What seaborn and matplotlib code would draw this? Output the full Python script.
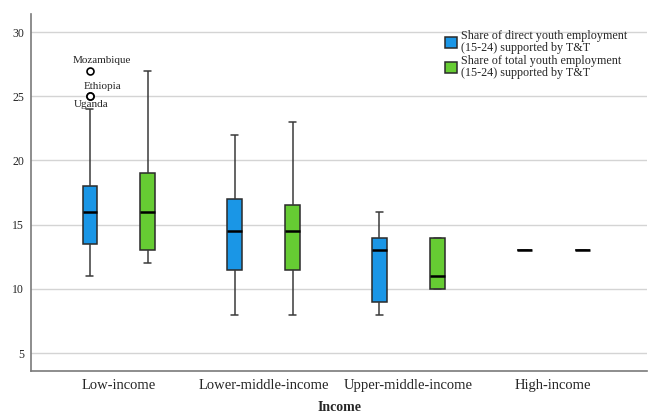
import pandas as pd
import matplotlib.pyplot as plt
import seaborn as sns

# Income groups and the two series
incomes = ["Low-income", "Lower-middle-income", "Upper-middle-income", "High-income"]
series = ["Share of direct youth employment\n(15-24) supported by T&T",
          "Share of total youth employment\n(15-24) supported by T&T"]

direct_low = [11, 12, 12.5, 13, 13.5, 14, 15, 15.5, 16, 16.5, 17, 17.5, 18, 24, 25, 25, 27]
direct_lower_mid = [8, 11.5, 14.5, 17, 22]
direct_upper_mid = [8, 9, 13, 14, 16]
direct_high = [13, 13, 13]
total_low = [12, 13, 16, 19, 27]
total_lower_mid = [8, 11.5, 14.5, 16.5, 23]
total_upper_mid = [10, 10, 11, 14, 14]
total_high = [13, 13, 13]

# Labelled outliers
outlier_names = ["Mozambique", "Ethiopia", "Uganda"]
outlier_values = [27, 25, 25]

rows = []
for inc, d, t in zip(incomes,
                     [direct_low, direct_lower_mid, direct_upper_mid, direct_high],
                     [total_low, total_lower_mid, total_upper_mid, total_high]):
    rows += [(inc, series[0], v) for v in d]
    rows += [(inc, series[1], v) for v in t]
df = pd.DataFrame(rows, columns=["Income", "Series", "Value"])

sns.set_style("white")
plt.rcParams["font.family"] = ["Liberation Serif", "DejaVu Serif"]

fig = plt.figure(figsize=(6.56, 4.13), dpi=100)
ax = fig.add_axes([0.047, 0.102, 0.94, 0.864])

sns.boxplot(
    data=df, x="Income", y="Value", hue="Series", order=incomes, hue_order=series,
    palette=["#1a96e6", "#66cc33"], saturation=1, width=0.8, gap=0.75, whis=1.5,
    linewidth=1.1, linecolor="#2a2a2a",
    medianprops=dict(color="black", linewidth=1.8),
    whiskerprops=dict(color="#3a3a3a"),
    capprops=dict(color="#3a3a3a"),
    flierprops=dict(marker="o", markersize=5, markerfacecolor="white",
                    markeredgecolor="black", markeredgewidth=1.2),
    ax=ax,
)

# outlier labels
offsets = [(9, 7), (9, 7), (1, -6)]
for name, val, off in zip(outlier_names, outlier_values, offsets):
    ax.annotate(name, xy=(-0.2, val), xytext=off, textcoords="offset points",
                ha="center", va="center", fontsize=8)

ax.set_ylim(3.62, 31.4)
ax.set_xlim(-0.607, 3.65)
ax.set_yticks([5, 10, 15, 20, 25, 30])
ax.yaxis.grid(True, color="#d4d4d4", linewidth=1)
ax.set_axisbelow(True)
for s in ["top", "right"]:
    ax.spines[s].set_visible(False)
for s in ["left", "bottom"]:
    ax.spines[s].set_color("#7a7a7a")
    ax.spines[s].set_linewidth(1.2)
ax.tick_params(axis="both", length=0)
ax.tick_params(axis="y", labelsize=8.5, pad=5)
ax.tick_params(axis="x", labelsize=10.5, pad=6)
ax.set_ylabel("")
ax.set_xlabel("Income", fontsize=10, fontweight="bold", labelpad=6)

leg = ax.legend(loc="upper left", bbox_to_anchor=(0.66, 0.975), frameon=False,
                fontsize=8.7, handlelength=1.0, handleheight=1.0, handletextpad=0.3,
                labelspacing=0.1, borderaxespad=0.2)
for t in leg.get_texts():
    t.set_linespacing(0.95)

plt.savefig("out.png", dpi=100)
